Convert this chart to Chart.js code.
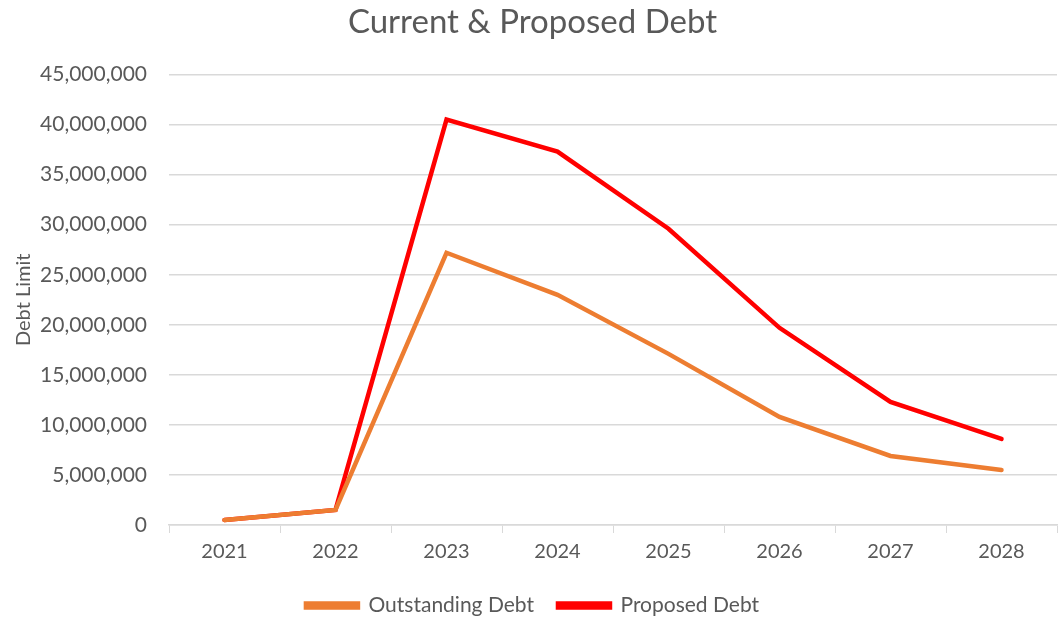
<!DOCTYPE html>
<html>
<head>
<meta charset="utf-8">
<script src="https://cdn.jsdelivr.net/npm/chart.js@4"></script>
<style>
  html, body { margin: 0; padding: 0; background: #fff; }
  #wrap { width: 1058px; height: 618px; }
</style>
</head>
<body>
<div id="wrap"><canvas id="debtChart"></canvas></div>
<script>
const years = ['2021', '2022', '2023', '2024', '2025', '2026', '2027', '2028'];
const outstandingDebt = [500000, 1500000, 27200000, 23000000, 17100000, 10800000, 6900000, 5500000];
const proposedDebt = [500000, 1500000, 40500000, 37300000, 29600000, 19700000, 12300000, 8600000];

// legend keeps its wide item gap but a shorter block
const legendHeight = {
    id: 'legendHeight',
    beforeInit(chart) {
        const fit = chart.legend.fit;
        chart.legend.fit = function() {
            fit.bind(chart.legend)();
            this.height = 47;
        };
    }
};

document.addEventListener('DOMContentLoaded', function() {
    const ctx = document.getElementById('debtChart').getContext('2d');
    const font = "Lato, 'Open Sans', sans-serif";
    new Chart(ctx, {
        type: 'line',
        data: {
            labels: years,
            datasets: [
                {
                    label: 'Outstanding Debt',
                    data: outstandingDebt,
                    borderColor: '#ED7D31',
                    backgroundColor: '#ED7D31',
                    borderWidth: 4.5,
                    pointRadius: 0,
                    borderCapStyle: 'round',
                    tension: 0
                },
                {
                    label: 'Proposed Debt',
                    data: proposedDebt,
                    borderColor: '#FF0000',
                    backgroundColor: '#FF0000',
                    borderWidth: 4.5,
                    pointRadius: 0,
                    borderCapStyle: 'round',
                    tension: 0
                }
            ]
        },
        plugins: [legendHeight],
        options: {
            responsive: true,
            maintainAspectRatio: false,
            animation: false,
            layout: { padding: { left: 8, right: 1, top: 0, bottom: 0 } },
            plugins: {
                title: {
                    display: true,
                    text: 'Current & Proposed Debt',
                    color: '#595959',
                    font: { family: font, size: 33, weight: 'normal' },
                    padding: { top: 3, bottom: 32 }
                },
                legend: {
                    position: 'bottom',
                    labels: {
                        color: '#595959',
                        font: { family: font, size: 21 },
                        boxWidth: 52,
                        boxHeight: 4,
                        padding: 24
                    }
                },
                tooltip: { enabled: false }
            },
            scales: {
                x: {
                    offset: true,
                    grid: {
                        offset: true,
                        drawOnChartArea: false,
                        color: '#d9d9d9',
                        tickLength: 8
                    },
                    border: { color: '#d9d9d9', width: 1.5 },
                    ticks: {
                        color: '#595959',
                        font: { family: font, size: 20 },
                        padding: 7
                    }
                },
                y: {
                    min: 0,
                    max: 45000000,
                    afterFit: function(scale) { scale.width = 161; },
                    title: {
                        display: true,
                        text: 'Debt Limit',
                        color: '#595959',
                        font: { family: font, size: 20 },
                        padding: { bottom: 4 }
                    },
                    grid: {
                        color: '#d9d9d9',
                        lineWidth: 1.5,
                        tickLength: 0
                    },
                    border: { display: false },
                    ticks: {
                        stepSize: 5000000,
                        color: '#595959',
                        font: { family: font, size: 21 },
                        padding: 22,
                        callback: function(v) { return v.toLocaleString('en-US'); }
                    }
                }
            }
        }
    });
});
</script>
</body>
</html>
